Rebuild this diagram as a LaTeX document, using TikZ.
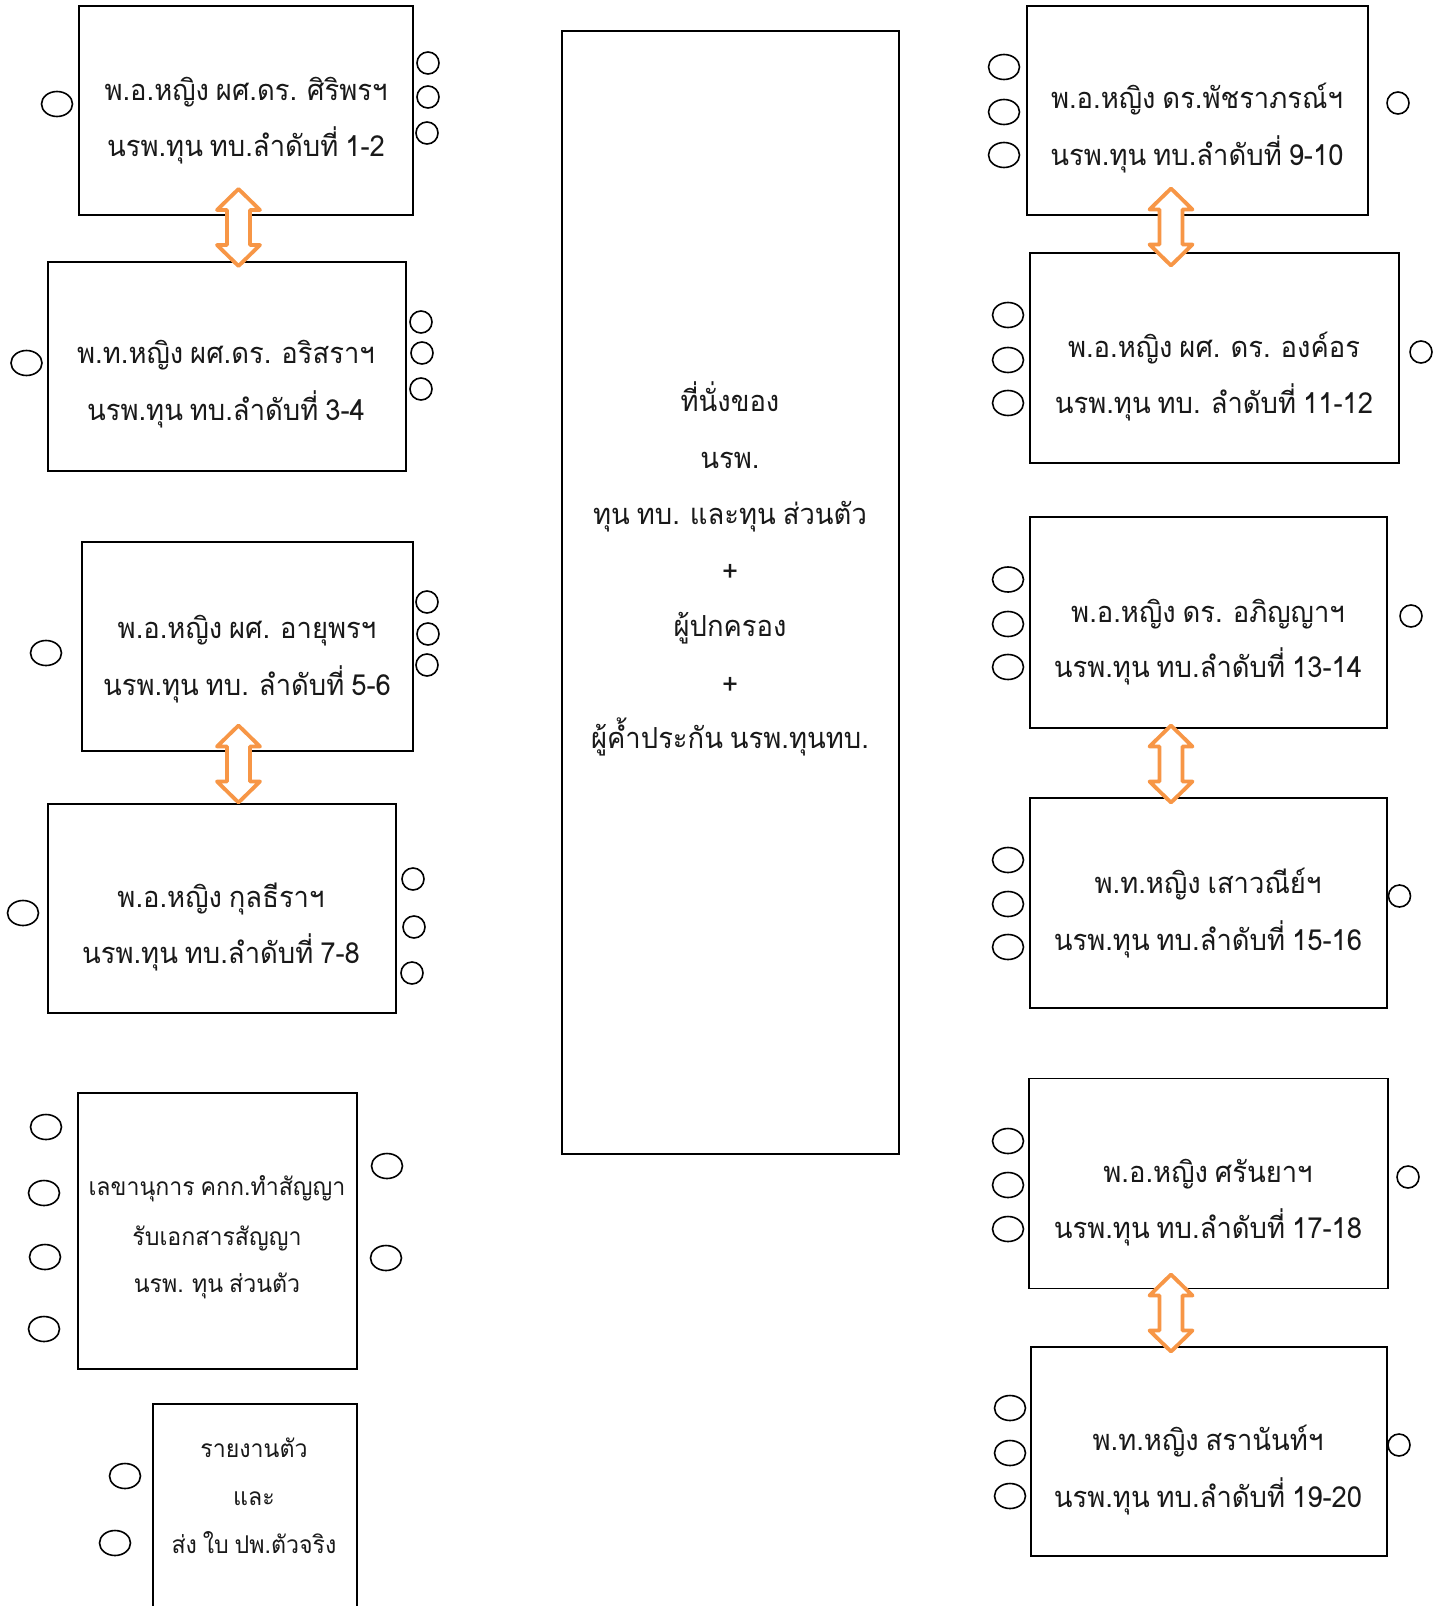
\documentclass[tikz,border=0pt]{standalone}
\usepackage{fontspec}
\newfontfamily\thaifont[Script=Thai, WordSpace=0.75, FakeStretch=0.945]{Loma}
\usetikzlibrary{shapes.geometric}
\definecolor{arrorange}{HTML}{F79646}
\tikzset{
  seatbox/.style={draw=black, line width=1.8pt, rectangle, inner sep=0pt},
  bigbox/.style={draw=black, line width=1.2pt, rectangle, inner sep=0pt},
  bigseat/.style={draw=black, ellipse, line width=1.6pt, minimum width=31pt, minimum height=25pt, inner sep=0pt},
  smallseat/.style={draw=black, ellipse, line width=1.6pt, minimum width=22pt, minimum height=22pt, inner sep=0pt},
  lbl/.style={font=\thaifont\fontsize{29}{29}\selectfont, anchor=base, inner sep=0pt, text=black!90},
  slbl/.style={font=\thaifont\fontsize{24.5}{24.5}\selectfont, anchor=base, inner sep=0pt, text=black!90},
  dblarr/.style={draw=arrorange, fill=white, line width=3.8pt, line join=round},
}
\newcommand{\updown}[3]{%
  \coordinate (#1) at (#2,#3);
  \draw[dblarr, shift={(#1)}] (0,-38.5) -- (21.5,-17.5) -- (11.5,-17.5) -- (11.5,17.5) -- (21.5,17.5) -- (0,38.5) -- (-21.5,17.5) -- (-11.5,17.5) -- (-11.5,-17.5) -- (-21.5,-17.5) -- cycle;
}
\begin{document}
\begin{tikzpicture}[x=1pt,y=-1pt]
\useasboundingbox (0,0) rectangle (1445,1606);
\fill[white] (0,0) rectangle (1445,1606);

% ---------- left column boxes ----------
\node[seatbox, minimum width=334pt, minimum height=209pt] (b1) at (246,110.5) {};
\node[seatbox, minimum width=358pt, minimum height=209pt] (b2) at (227,366.5) {};
\node[seatbox, minimum width=331pt, minimum height=209pt] (b3) at (247.5,646.5) {};
\node[seatbox, minimum width=348pt, minimum height=209pt] (b4) at (222,908.5) {};
\node[seatbox, minimum width=279pt, minimum height=276pt] (b5) at (217.5,1231) {};
\node[seatbox, minimum width=204pt, minimum height=236pt] (b6) at (255,1522) {};

% ---------- centre box ----------
\node[bigbox, minimum width=337pt, minimum height=1123pt] (c) at (730.5,592.5) {};

% ---------- right column boxes ----------
\node[seatbox, minimum width=341pt, minimum height=209pt] (r1) at (1197.5,110.5) {};
\node[seatbox, minimum width=369pt, minimum height=210pt] (r2) at (1214.5,358) {};
\node[seatbox, minimum width=357pt, minimum height=211pt] (r3) at (1208.5,622.5) {};
\node[seatbox, minimum width=357pt, minimum height=210pt] (r4) at (1208.5,903) {};
\node[seatbox, minimum width=359pt, minimum height=210pt] (r5) at (1208.5,1183.5) {};
\node[seatbox, minimum width=356pt, minimum height=209pt] (r6) at (1209,1451.5) {};

% ---------- texts ----------
\node[lbl] (t1a) at (246,100) {พ.อ.หญิง ผศ.ดร. ศิริพรฯ};
\node[lbl] (t1b) at (246,156) {นรพ.ทุน ทบ.ลำดับที่ 1-2};
\node[lbl] (t2a) at (226,363) {พ.ท.หญิง ผศ.ดร. อริสราฯ};
\node[lbl] (t2b) at (226,420) {นรพ.ทุน ทบ.ลำดับที่ 3-4};
\node[lbl] (t3a) at (247,638) {พ.อ.หญิง ผศ. อายุพรฯ};
\node[lbl] (t3b) at (247,695) {นรพ.ทุน ทบ. ลำดับที่ 5-6};
\node[lbl] (t4a) at (221,907) {พ.อ.หญิง กุลธีราฯ};
\node[lbl] (t4b) at (221,963) {นรพ.ทุน ทบ.ลำดับที่ 7-8};
\node[slbl] (t5a) at (217,1195) {เลขานุการ คกก.ทำสัญญา};
\node[slbl] (t5b) at (217,1245) {รับเอกสารสัญญา};
\node[slbl] (t5c) at (217,1292) {นรพ. ทุน ส่วนตัว};
\node[slbl] (t6a) at (254,1457) {รายงานตัว};
\node[slbl] (t6b) at (254,1505) {และ};
\node[slbl] (t6c) at (254,1553) {ส่ง ใบ ปพ.ตัวจริง};

\node[lbl] (ca) at (730,411) {ที่นั่งของ};
\node[lbl] (cb) at (730,468) {นรพ.};
\node[lbl] (cc) at (730,524) {ทุน ทบ. และทุน ส่วนตัว};
\node[lbl] (cd) at (730,581) {+};
\node[lbl] (ce) at (730,636) {ผู้ปกครอง};
\node[lbl] (cf) at (730,694) {+};
\node[lbl] (cg) at (730,748) {ผู้ค้ำประกัน นรพ.ทุนทบ.};

\node[lbl] (u1a) at (1197,108) {พ.อ.หญิง ดร.พัชราภรณ์ฯ};
\node[lbl] (u1b) at (1197,165) {นรพ.ทุน ทบ.ลำดับที่ 9-10};
\node[lbl] (u2a) at (1214,357) {พ.อ.หญิง ผศ. ดร. องค์อร};
\node[lbl] (u2b) at (1214,413) {นรพ.ทุน ทบ. ลำดับที่ 11-12};
\node[lbl] (u3a) at (1208,622) {พ.อ.หญิง ดร. อภิญญาฯ};
\node[lbl] (u3b) at (1208,677) {นรพ.ทุน ทบ.ลำดับที่ 13-14};
\node[lbl] (u4a) at (1208,893) {พ.ท.หญิง เสาวณีย์ฯ};
\node[lbl] (u4b) at (1208,950) {นรพ.ทุน ทบ.ลำดับที่ 15-16};
\node[lbl] (u5a) at (1208,1182) {พ.อ.หญิง ศรันยาฯ};
\node[lbl] (u5b) at (1208,1238) {นรพ.ทุน ทบ.ลำดับที่ 17-18};
\node[lbl] (u6a) at (1208,1450) {พ.ท.หญิง สรานันท์ฯ};
\node[lbl] (u6b) at (1208,1507) {นรพ.ทุน ทบ.ลำดับที่ 19-20};

% ---------- seats: left column ----------
\node[bigseat] (s1l) at (57,104) {};
\node[smallseat] (s1r1) at (428,63) {};
\node[smallseat] (s1r2) at (428,97) {};
\node[smallseat] (s1r3) at (427,133) {};

\node[bigseat] (s2l) at (26.5,363) {};
\node[smallseat] (s2r1) at (421,322) {};
\node[smallseat] (s2r2) at (422,353) {};
\node[smallseat] (s2r3) at (421,389) {};

\node[bigseat] (s3l) at (46,653) {};
\node[smallseat] (s3r1) at (427,602) {};
\node[smallseat] (s3r2) at (428,634) {};
\node[smallseat] (s3r3) at (427,665) {};

\node[bigseat] (s4l) at (23,913) {};
\node[smallseat] (s4r1) at (413,879) {};
\node[smallseat] (s4r2) at (414,927) {};
\node[smallseat] (s4r3) at (412,973) {};

\node[bigseat] (s5l1) at (46,1127) {};
\node[bigseat] (s5l2) at (44,1193) {};
\node[bigseat] (s5l3) at (45,1257) {};
\node[bigseat] (s5l4) at (44,1329) {};
\node[bigseat] (s5r1) at (387,1166) {};
\node[bigseat] (s5r2) at (386,1258) {};

\node[bigseat] (s6l1) at (125,1476) {};
\node[bigseat] (s6l2) at (115,1543) {};

% ---------- seats: right column ----------
\node[bigseat] (q1l1) at (1004,67) {};
\node[bigseat] (q1l2) at (1004,112) {};
\node[bigseat] (q1l3) at (1004,155) {};
\node[smallseat] (q1r) at (1398,103) {};

\node[bigseat] (q2l1) at (1008,315) {};
\node[bigseat] (q2l2) at (1008,360) {};
\node[bigseat] (q2l3) at (1008,403) {};
\node[smallseat] (q2r) at (1421,352) {};

\node[bigseat] (q3l1) at (1008,579.5) {};
\node[bigseat] (q3l2) at (1008,624) {};
\node[bigseat] (q3l3) at (1008,667) {};
\node[smallseat] (q3r) at (1411,616) {};

\node[bigseat] (q4l1) at (1008,860) {};
\node[bigseat] (q4l2) at (1008,904) {};
\node[bigseat] (q4l3) at (1008,947) {};
\node[smallseat] (q4r) at (1399.5,896) {};

\node[bigseat] (q5l1) at (1008,1141) {};
\node[bigseat] (q5l2) at (1008,1185) {};
\node[bigseat] (q5l3) at (1008,1229) {};
\node[smallseat] (q5r) at (1408,1177) {};

\node[bigseat] (q6l1) at (1010,1408) {};
\node[bigseat] (q6l2) at (1010,1453) {};
\node[bigseat] (q6l3) at (1010,1496) {};
\node[smallseat] (q6r) at (1399,1445) {};

% ---------- orange double arrows ----------
\updown{a1}{238.5}{227.5}
\updown{a2}{238.5}{764}
\updown{a3}{1171}{227}
\updown{a4}{1171}{764}
\updown{a5}{1171}{1313}
\end{tikzpicture}
\end{document}
